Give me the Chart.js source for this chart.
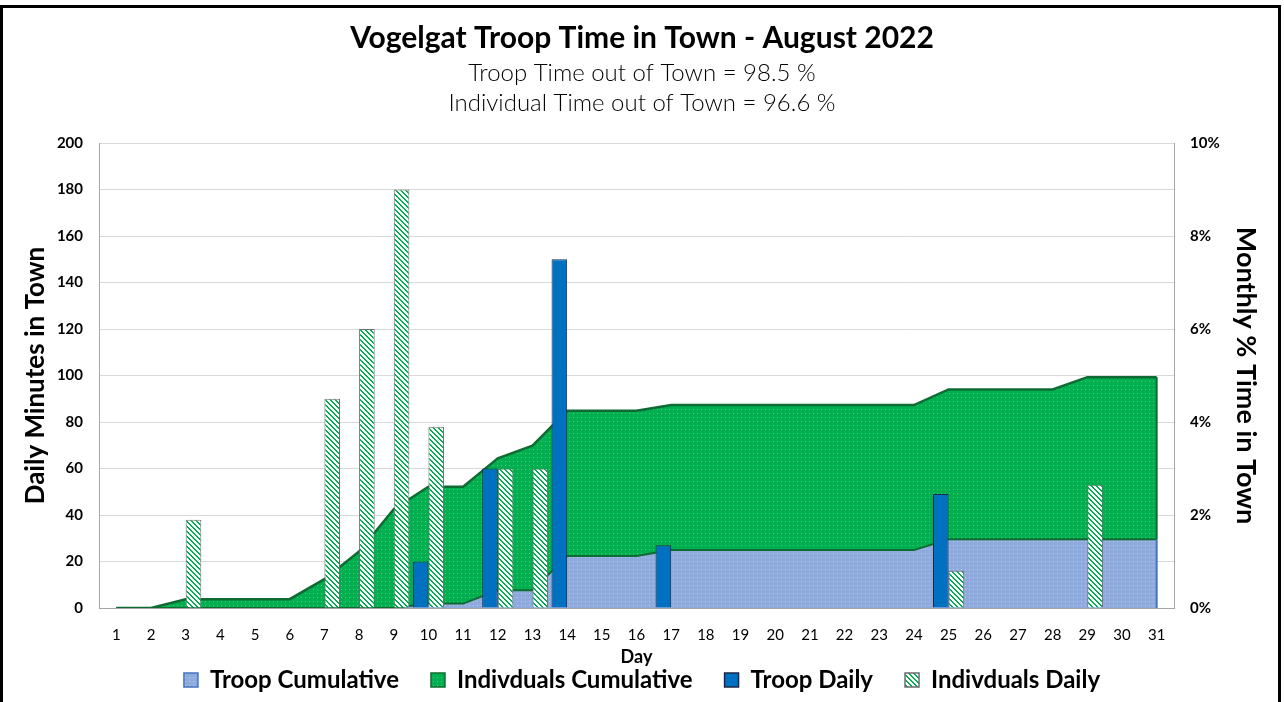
<!DOCTYPE html>
<html>
<head>
<meta charset="utf-8">
<script src="https://cdn.jsdelivr.net/npm/chart.js@4.4.0/dist/chart.umd.min.js"></script>
<style>
    html, body { margin: 0; padding: 0; background: #fff; }
    #wrap { width: 1284px; height: 702px; }
</style>
</head>
<body>
<div id="wrap"><canvas id="chart" width="1284" height="702"></canvas></div>
<script>
// Days of August 2022
const days = [];
for (let d = 1; d <= 31; d++) days.push(String(d));

// Daily minutes in town (left axis)
const troopDaily = [null, null, null, null, null, null, null, null, null, 20, null, 60, null, 150, null, null, 27, null, null, null, null, null, null, null, 49, null, null, null, null, null, null];
const indivDaily = [null, null, 38, null, null, null, 90, 120, 180, 78, null, 60, 60, null, null, null, null, null, null, null, null, null, null, null, 16, null, null, null, 53, null, null];

// Monthly cumulative % of time in town (right axis, stacked)
const troopCum = [0, 0, 0, 0, 0, 0, 0, 0, 0, 0.095, 0.095, 0.38, 0.38, 1.12, 1.12, 1.12, 1.245, 1.245, 1.245, 1.245, 1.245, 1.245, 1.245, 1.245, 1.48, 1.48, 1.48, 1.48, 1.48, 1.48, 1.48];
const indivCum = [0, 0, 0.19, 0.19, 0.19, 0.19, 0.62, 1.215, 2.125, 2.515, 2.515, 2.84, 3.11, 3.12, 3.12, 3.12, 3.12, 3.12, 3.12, 3.12, 3.12, 3.12, 3.12, 3.12, 3.22, 3.22, 3.22, 3.22, 3.485, 3.485, 3.485];

const FONT = "Lato, 'Open Sans', sans-serif";

// petit motif pointillé
function dotPattern(base, dot) {
    const c = document.createElement('canvas');
    c.width = 4; c.height = 4;
    const g = c.getContext('2d');
    g.fillStyle = base;
    g.fillRect(0, 0, 4, 4);
    g.fillStyle = dot;
    g.fillRect(1, 1, 1, 1);
    return g.createPattern(c, 'repeat');
}

// motif hachuré (diagonales vers le bas à droite)
function hatchPattern(line, back) {
    const n = 5;
    const c = document.createElement('canvas');
    c.width = n; c.height = n;
    const g = c.getContext('2d');
    g.fillStyle = back;
    g.fillRect(0, 0, n, n);
    g.fillStyle = line;
    for (let x = 0; x < n; x++) {
        for (let y = 0; y < n; y++) {
            if (((x - y) % n + n) % n < 2) g.fillRect(x, y, 1, 1);
        }
    }
    return g.createPattern(c, 'repeat');
}

const greenFill = dotPattern('#00B050', '#4CCB7F');
const blueFill = dotPattern('#8FAADC', '#B7C9EA');
const hatchFill = hatchPattern('#00B050', '#FFFFFF');

// cadre noir + fond blanc
const framePlugin = {
    id: 'frame',
    beforeDraw(chart) {
        const ctx = chart.ctx;
        ctx.save();
        ctx.fillStyle = '#fff';
        ctx.fillRect(0, 0, chart.width, chart.height);
        ctx.restore();
    },
    afterDraw(chart) {
        const ctx = chart.ctx;
        ctx.save();
        ctx.strokeStyle = '#000';
        ctx.lineWidth = 3;
        ctx.strokeRect(1.5, 6.5, chart.width - 6, chart.height + 20);
        ctx.restore();
    }
};

// bord droit des aires
const areaEdgePlugin = {
    id: 'areaEdge',
    afterDatasetDraw(chart, args) {
        if (args.index !== 0) return;
        const troop = chart.getDatasetMeta(0).data;
        const indiv = chart.getDatasetMeta(1).data;
        const last = troop.length - 1;
        const x = troop[last].x;
        const bottom = chart.scales.y2.getPixelForValue(0);
        const ctx = chart.ctx;
        ctx.save();
        ctx.lineWidth = 2;
        ctx.strokeStyle = '#4472C4';
        ctx.beginPath();
        ctx.moveTo(x, bottom);
        ctx.lineTo(x, troop[last].y);
        ctx.stroke();
        ctx.strokeStyle = '#0E6B32';
        ctx.beginPath();
        ctx.moveTo(x, troop[last].y);
        ctx.lineTo(x, indiv[last].y);
        ctx.stroke();
        ctx.restore();
    }
};

// légende : ordre des séries + espacement horizontal
function legendLabels(chart) {
    const items = Chart.defaults.plugins.legend.labels.generateLabels(chart);
    items.sort((a, b) => a.datasetIndex - b.datasetIndex);
    items.forEach((item, i) => {
        if (i < items.length - 1) item.text += '\u2003\u2002';
        if (item.datasetIndex === 0) item.strokeStyle = '#4472C4';
        item.lineWidth = 1.5;
    });
    return items;
}

const ctx = document.getElementById('chart').getContext('2d');
const chart = new Chart(ctx, {
    data: {
        labels: days,
        datasets: [
            {
                type: 'line',
                label: 'Troop Cumulative',
                data: troopCum,
                yAxisID: 'y2',
                stack: 'cum',
                fill: 'origin',
                backgroundColor: blueFill,
                borderColor: '#0E6B32',
                borderWidth: 2,
                tension: 0,
                pointRadius: 0,
                order: 2
            },
            {
                type: 'line',
                label: 'Indivduals Cumulative',
                data: indivCum,
                yAxisID: 'y2',
                stack: 'cum',
                fill: '-1',
                backgroundColor: greenFill,
                borderColor: '#0E6B32',
                borderWidth: 2.5,
                tension: 0,
                pointRadius: 0,
                order: 2
            },
            {
                type: 'bar',
                label: 'Troop Daily',
                data: troopDaily,
                yAxisID: 'y',
                backgroundColor: '#0070C0',
                borderColor: '#1B2A47',
                borderWidth: 1,
                categoryPercentage: 0.9,
                barPercentage: 1,
                order: 1
            },
            {
                type: 'bar',
                label: 'Indivduals Daily',
                data: indivDaily,
                yAxisID: 'y',
                backgroundColor: hatchFill,
                borderColor: '#6E6E6E',
                borderWidth: 1,
                categoryPercentage: 0.9,
                barPercentage: 1,
                order: 1
            }
        ]
    },
    options: {
        responsive: false,
        animation: false,
        layout: { padding: { left: 12, right: 12, top: 10, bottom: 0 } },
        plugins: {
            title: {
                display: true,
                text: 'Vogelgat Troop Time in Town - August 2022',
                color: '#000',
                font: { family: FONT, size: 30, weight: 'bold' },
                padding: { top: 10, bottom: 2 }
            },
            subtitle: {
                display: true,
                text: ['Troop Time out of Town = 98.5 %', 'Individual Time out of Town = 96.6 %'],
                color: '#000',
                font: { family: FONT, size: 24, weight: '300', lineHeight: 1.25 },
                padding: { top: 0, bottom: 25 }
            },
            legend: {
                position: 'bottom',
                labels: {
                    color: '#000',
                    font: { family: FONT, size: 24, weight: 'bold' },
                    boxWidth: 14,
                    boxHeight: 14,
                    padding: 2,
                    generateLabels: legendLabels
                }
            },
            tooltip: { enabled: false }
        },
        scales: {
            x: {
                offset: true,
                grid: { display: false },
                border: { display: true, color: '#A6A6A6' },
                ticks: { color: '#000', font: { family: FONT, size: 15 }, padding: 10, maxRotation: 0, autoSkip: false },
                title: { display: true, text: 'Day', color: '#000', font: { family: FONT, size: 18, weight: 'bold', lineHeight: 1 }, padding: { top: -1, bottom: 0 } },
                afterFit: s => { s.height = 58; }
            },
            y: {
                position: 'left',
                min: 0,
                max: 200,
                ticks: { stepSize: 20, color: '#000', font: { family: FONT, size: 15, weight: 'bold' }, padding: 16 },
                grid: { color: '#D9D9D9', drawTicks: false },
                border: { display: true, color: '#A6A6A6' },
                title: { display: true, text: 'Daily Minutes in Town', color: '#000', font: { family: FONT, size: 26, weight: 'bold' }, padding: { top: 8, bottom: 0 } },
                afterFit: s => { s.width = 87; }
            },
            y2: {
                position: 'right',
                stacked: true,
                min: 0,
                max: 10,
                ticks: { stepSize: 2, color: '#000', font: { family: FONT, size: 15, weight: 'bold' }, padding: 16, callback: v => v + '%' },
                grid: { display: false, drawTicks: false },
                border: { display: true, color: '#A6A6A6' },
                title: { display: true, text: 'Monthly % Time in Town', color: '#000', font: { family: FONT, size: 27, weight: 'bold' }, padding: { top: 10, bottom: 0 } },
                afterFit: s => { s.width = 98; }
            }
        }
    },
    plugins: [framePlugin, areaEdgePlugin]
});
</script>
</body>
</html>
